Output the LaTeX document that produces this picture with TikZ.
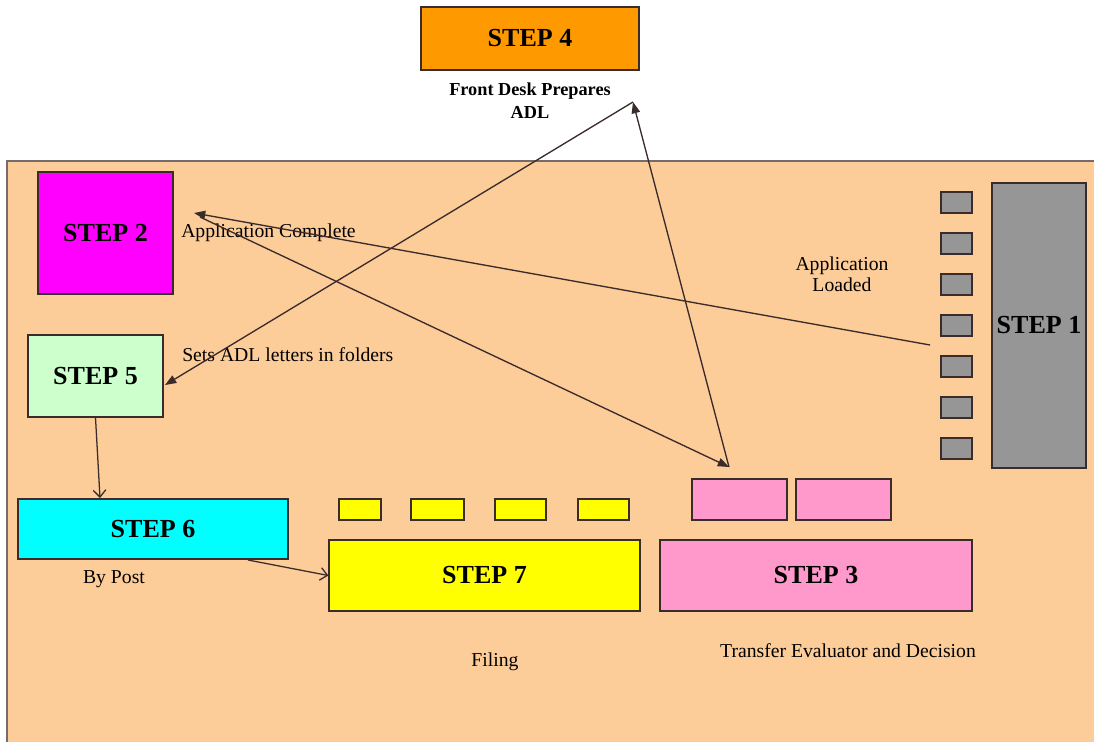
\documentclass[tikz,border=0pt]{standalone}
\usepackage{fontspec}
\setmainfont{Liberation Serif}
\usetikzlibrary{arrows.meta}

\definecolor{peach}{RGB}{252,204,153}
\definecolor{linebrown}{RGB}{58,44,42}
\definecolor{orangebox}{RGB}{255,153,0}
\definecolor{magentabox}{RGB}{255,0,255}
\definecolor{mintbox}{RGB}{204,255,204}
\definecolor{cyanbox}{RGB}{0,255,255}
\definecolor{yellowbox}{RGB}{255,255,0}
\definecolor{pinkbox}{RGB}{255,153,204}
\definecolor{greybox}{RGB}{150,150,150}

\tikzset{
  stepbox/.style={draw=linebrown, line width=0.9pt, rectangle, inner sep=0pt,
    font=\fontsize{18.5}{22}\selectfont\bfseries},
  slotbox/.style={draw=linebrown, line width=0.9pt, rectangle, inner sep=0pt},
  caption/.style={font=\fontsize{14}{15}\selectfont, inner sep=0pt, align=center},
  flow/.style={draw=linebrown, line width=0.95pt, -{Triangle[length=8pt,width=6pt]}},
  post/.style={draw=linebrown, line width=0.9pt, -{Straight Barb[length=5pt,width=9pt]}},
}

\begin{document}
\begin{tikzpicture}[x=0.025cm, y=-0.025cm]
        \useasboundingbox (0,0) rectangle (1094,742);

        % Office floor
        \fill[peach] (7,161) rectangle (1110,760);
        \draw[linebrown!70, line width=1pt] (1110,161) -- (7,161) -- (7,760);

        % Front desk outside the office
        \node[stepbox, fill=orangebox, minimum width=5.45cm, minimum height=1.575cm] (step4) at (530,38.5) {STEP 4};
        \node[caption, font=\fontsize{13}{16}\selectfont\bfseries] (desk) at (530,100.5) {Front Desk Prepares\\ADL};

        % Steps inside the office
        \node[stepbox, fill=magentabox, minimum width=3.375cm, minimum height=3.05cm] (step2) at (105.5,233) {STEP 2};
        \node[stepbox, fill=mintbox, minimum width=3.375cm, minimum height=2.05cm] (step5) at (95.5,376) {STEP 5};
        \node[stepbox, fill=greybox, minimum width=2.35cm, minimum height=7.125cm] (step1) at (1039,325.5) {STEP 1};
        \node[stepbox, fill=cyanbox, minimum width=6.75cm, minimum height=1.5cm] (step6) at (153,529) {STEP 6};
        \node[stepbox, fill=yellowbox, minimum width=7.775cm, minimum height=1.775cm] (step7) at (484.5,575.5) {STEP 7};
        \node[stepbox, fill=pinkbox, minimum width=7.8cm, minimum height=1.775cm] (step3) at (816,575.5) {STEP 3};

        % Trays beside the steps
        \foreach \i in {0,...,6}
            \node[slotbox, fill=greybox, minimum width=0.775cm, minimum height=0.525cm] (tray\i) at (956.5,202.5+41*\i) {};
        \foreach \cx/\w [count=\i] in {360/1.05, 437.5/1.325, 520.5/1.275, 603.5/1.275}
            \node[slotbox, fill=yellowbox, minimum width=\w cm, minimum height=0.525cm] (file\i) at (\cx,509.5) {};
        \node[slotbox, fill=pinkbox, minimum width=2.375cm, minimum height=1.025cm] (eval1) at (739.5,499.5) {};
        \node[slotbox, fill=pinkbox, minimum width=2.375cm, minimum height=1.025cm] (eval2) at (843.5,499.5) {};

        % Labels
        \node[caption, anchor=west] (complete) at (181,233) {Application Complete};
        \node[caption, anchor=west] (sets) at (182,355) {Sets ADL letters in folders};
        \node[caption, font=\fontsize{14}{15}\selectfont] (loaded) at (842,274) {Application\\Loaded};
        \node[caption] (bypost) at (114,579) {By Post};
        \node[caption] (filing) at (495,662) {Filing};
        \node[caption] (transfer) at (848,651) {Transfer Evaluator and Decision};

        % Free ends of the arrows
        \coordinate (loadout) at (930,345);
        \coordinate (completein) at (194,213);
        \coordinate (completeout) at (200,217);
        \coordinate (evalin) at (729,467);
        \coordinate (adl) at (633,102);
        \coordinate (setsin) at (165,385);
        \coordinate (postin) at (100,498);
        \coordinate (postout) at (248,560);

        % Arrows between steps
        \draw[flow] (loadout) -- (completein);
        \draw[flow] (completeout) -- (evalin);
        \draw[flow] (evalin) -- (adl);
        \draw[flow] (adl) -- (setsin);
        \draw[post] (step5.south) -- (postin);
        \draw[post] (postout) -- (step7.west);
\end{tikzpicture}
\end{document}
